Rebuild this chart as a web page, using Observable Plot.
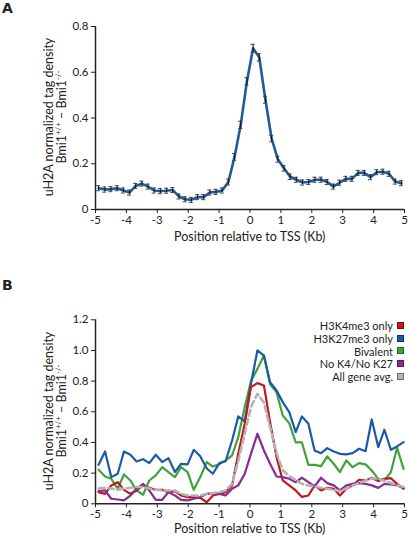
<!DOCTYPE html>
<html><head><meta charset="utf-8">
<script src="https://cdn.jsdelivr.net/npm/d3@7"></script>
<script src="https://cdn.jsdelivr.net/npm/@observablehq/plot@0.6"></script>
<style>
body{margin:0;background:#fff;font-family:Lato,sans-serif;color:#222}
#wrap{position:relative;width:408px;height:537px;overflow:hidden}
.panel{position:absolute;left:0}
.plab{position:absolute;font-weight:bold;font-size:14px;font-family:"DejaVu Sans",sans-serif}
#legend{position:absolute;right:4px;top:319px;font-size:11px;font-family:Lato,sans-serif}
#legend .row{display:flex;justify-content:flex-end;align-items:center;height:12.8px;white-space:nowrap}
#legend .sw{width:5px;height:5px;margin-left:4px;border:1px solid}
</style></head>
<body><div id="wrap">
<div id="pa" class="panel" style="top:0"></div>
<div id="pb" class="panel" style="top:250px"></div>
<div class="plab" style="left:2px;top:0px">A</div>
<div class="plab" style="left:2px;top:277px">B</div>
<div id="legend"></div>
</div>
<script>
// ---------- Panel A data ----------
const xA = [-4.9,-4.7,-4.5,-4.3,-4.1,-3.9,-3.7,-3.5,-3.3,-3.1,-2.9,-2.7,-2.5,-2.3,-2.1,-1.9,-1.7,-1.5,-1.3,-1.1,-0.9,-0.7,-0.5,-0.3,-0.1,0.1,0.3,0.5,0.7,0.9,1.1,1.3,1.5,1.7,1.9,2.1,2.3,2.5,2.7,2.9,3.1,3.3,3.5,3.7,3.9,4.1,4.3,4.5,4.7,4.9];
const yA = [0.093,0.087,0.089,0.093,0.083,0.074,0.103,0.113,0.100,0.083,0.080,0.082,0.085,0.057,0.045,0.042,0.054,0.054,0.074,0.077,0.083,0.120,0.230,0.370,0.560,0.705,0.665,0.480,0.310,0.220,0.180,0.143,0.130,0.118,0.120,0.130,0.130,0.120,0.100,0.117,0.134,0.134,0.160,0.160,0.141,0.163,0.165,0.156,0.122,0.115];
const eA = [0.011,0.011,0.011,0.011,0.011,0.011,0.011,0.011,0.011,0.011,0.011,0.011,0.011,0.011,0.011,0.011,0.011,0.011,0.011,0.011,0.011,0.013,0.015,0.016,0.016,0.017,0.016,0.015,0.014,0.013,0.012,0.012,0.011,0.011,0.011,0.011,0.011,0.011,0.011,0.011,0.011,0.011,0.011,0.011,0.011,0.011,0.011,0.011,0.011,0.011];

// ---------- Panel B data ----------
const xB = [-4.90,-4.69,-4.49,-4.28,-4.08,-3.87,-3.67,-3.46,-3.26,-3.05,-2.84,-2.64,-2.43,-2.23,-2.02,-1.82,-1.61,-1.40,-1.20,-0.99,-0.79,-0.58,-0.38,-0.17,0.03,0.24,0.45,0.65,0.86,1.06,1.27,1.48,1.68,1.89,2.09,2.30,2.50,2.71,2.91,3.12,3.32,3.53,3.74,3.94,4.15,4.35,4.56,4.76,4.97];
const h3k4 = [0.076,0.065,0.120,0.141,0.091,0.065,0.087,0.120,0.104,0.091,0.091,0.076,0.083,0.054,0.043,0.043,0.039,0.010,0.054,0.065,0.076,0.120,0.326,0.522,0.761,0.787,0.772,0.533,0.304,0.152,0.120,0.087,0.045,0.054,0.120,0.087,0.104,0.098,0.054,0.098,0.120,0.157,0.152,0.170,0.148,0.163,0.167,0.130,0.098];
const h3k27 = [0.254,0.341,0.174,0.196,0.341,0.320,0.276,0.291,0.265,0.320,0.272,0.298,0.207,0.261,0.257,0.352,0.310,0.230,0.196,0.265,0.278,0.413,0.570,0.537,0.783,1.000,0.967,0.793,0.739,0.663,0.598,0.467,0.570,0.522,0.348,0.330,0.363,0.341,0.326,0.322,0.330,0.359,0.343,0.550,0.370,0.483,0.352,0.374,0.402];
const bivalent = [0.222,0.178,0.163,0.098,0.191,0.152,0.087,0.059,0.152,0.185,0.239,0.207,0.174,0.239,0.207,0.091,0.174,0.272,0.243,0.260,0.283,0.315,0.435,0.630,0.800,0.880,0.967,0.780,0.728,0.576,0.526,0.400,0.400,0.254,0.254,0.246,0.309,0.261,0.207,0.283,0.239,0.265,0.257,0.217,0.163,0.152,0.207,0.365,0.228];
const noK4K27 = [0.083,0.087,0.033,0.028,0.022,0.054,0.098,0.130,0.087,0.026,0.026,0.076,0.054,0.026,0.022,0.033,0.043,0.065,0.070,0.065,0.054,0.098,0.120,0.196,0.326,0.457,0.348,0.261,0.178,0.174,0.163,0.141,0.170,0.141,0.113,0.170,0.135,0.120,0.087,0.120,0.130,0.135,0.130,0.120,0.104,0.130,0.126,0.120,0.104];
const allAvg = [0.100,0.104,0.100,0.091,0.100,0.104,0.110,0.110,0.100,0.091,0.087,0.087,0.087,0.065,0.054,0.054,0.054,0.065,0.070,0.076,0.087,0.130,0.280,0.460,0.630,0.717,0.660,0.500,0.330,0.220,0.180,0.155,0.130,0.120,0.113,0.104,0.098,0.090,0.083,0.100,0.120,0.135,0.150,0.165,0.165,0.150,0.135,0.120,0.110];

const seriesNames = ["H3K4me3 only","H3K27me3 only","Bivalent","No K4/No K27","All gene avg."];
const seriesColors = ["#c4161c","#1c5aa6","#3da33a","#8a2a92","#b3b3b3"];
const seriesBorders = ["#7a0d10","#0f3466","#236b20","#531857","#6d6d6d"];

const xTicks = [-5,-4,-3,-2,-1,0,1,2,3,4,5];
const yTicksA = [0,0.2,0.4,0.6,0.8];
const yTicksB = [0,0.2,0.4,0.6,0.8,1.0,1.2];

const xTitle = "Position relative to TSS (Kb)";
const yTitle1 = "uH2A normalized tag density";

// ---------- helpers ----------
function addYTitle(svg, cy){
  const s = d3.select(svg);
  const g = s.append("g").attr("font-family","Lato, sans-serif").attr("font-size","12.5px").attr("fill","#222").attr("text-anchor","middle").attr("dominant-baseline","middle");
  g.append("text").attr("transform",`translate(50,${cy}) rotate(-90)`).text(yTitle1);
  const t = g.append("text").attr("transform",`translate(63,${cy}) rotate(-90)`);
  t.append("tspan").text("Bmi1");
  t.append("tspan").attr("font-size","8px").attr("dy","-4").text("+/+");
  t.append("tspan").attr("dy","4").text(" \u2013 Bmi1");
  t.append("tspan").attr("font-size","8px").attr("dy","-4").text("-/-");
}
function addXTitle(svg, y){
  d3.select(svg).append("text").attr("x",249.7).attr("y",y).attr("text-anchor","middle")
    .attr("font-family","Lato, sans-serif").attr("font-size","12.5px").attr("fill","#222").text(xTitle);
}
const fmtB = d => d === 0 ? "0" : d.toFixed(1);
const common = {
  width:408,
  style:{fontFamily:"Lato, sans-serif",fontSize:"11.5px",color:"#222",background:"transparent",overflow:"visible"}
};

// ---------- Panel A ----------
const dataA = xA.map((x,i)=>({x, y:yA[i], e:eA[i]}));
const plotA = Plot.plot({
  ...common, height:250, marginLeft:95, marginRight:4, marginTop:26, marginBottom:41,
  x:{domain:[-5,5], ticks:xTicks, tickFormat:d=>String(d), tickSize:4, tickPadding:2, label:null},
  y:{domain:[0,0.8], ticks:yTicksA, tickFormat:d=>String(d), tickSize:4, tickPadding:3, label:null},
  marks:[
    Plot.line(dataA,{x:"x",y:"y",stroke:"#1f5a9c",strokeWidth:2.6}),
    Plot.ruleX(dataA,{x:"x",y1:d=>d.y-d.e,y2:d=>d.y+d.e,stroke:"#111",strokeWidth:1}),
    Plot.ruleY(dataA,{y:d=>d.y+d.e,x1:d=>d.x-0.065,x2:d=>d.x+0.065,stroke:"#444",strokeWidth:1}),
    Plot.ruleY(dataA,{y:d=>d.y-d.e,x1:d=>d.x-0.065,x2:d=>d.x+0.065,stroke:"#444",strokeWidth:1}),
    Plot.ruleX([-5],{stroke:"#222",strokeWidth:1.5}),
    Plot.ruleY([0],{stroke:"#222",strokeWidth:1.5})
  ]
});
document.getElementById("pa").appendChild(plotA);
addYTitle(plotA, 117);
addXTitle(plotA, 241);

// ---------- Panel B ----------
const seriesVals = [h3k4,h3k27,bivalent,noK4K27,allAvg];
const drawOrder = [2,1,0,3,4];
const lineMarks = drawOrder.map(k => Plot.line(xB.map((x,i)=>({x, y:seriesVals[k][i]})),{
  x:"x", y:"y", stroke:seriesColors[k], strokeWidth: k===4 ? 2.6 : 2.2,
  strokeDasharray: k===4 ? "6,3.5" : null
}));
const plotB = Plot.plot({
  ...common, height:287, marginLeft:95, marginRight:4, marginTop:69.3, marginBottom:33.7,
  x:{domain:[-5,5], ticks:xTicks, tickFormat:d=>String(d), tickSize:4, tickPadding:2, label:null},
  y:{domain:[0,1.2], ticks:yTicksB, tickFormat:fmtB, tickSize:4, tickPadding:3, label:null},
  marks:[
    ...lineMarks,
    Plot.ruleX([-5],{stroke:"#222",strokeWidth:1.5}),
    Plot.ruleY([0],{stroke:"#222",strokeWidth:1.5})
  ]
});
document.getElementById("pb").appendChild(plotB);
addYTitle(plotB, 161);
addXTitle(plotB, 283);

// legend
const lg = d3.select("#legend");
seriesNames.forEach((n,k)=>{
  const r = lg.append("div").attr("class","row");
  r.append("span").text(n);
  r.append("span").attr("class","sw").style("background",seriesColors[k]).style("border-color",seriesBorders[k]);
});
</script>
</body></html>
